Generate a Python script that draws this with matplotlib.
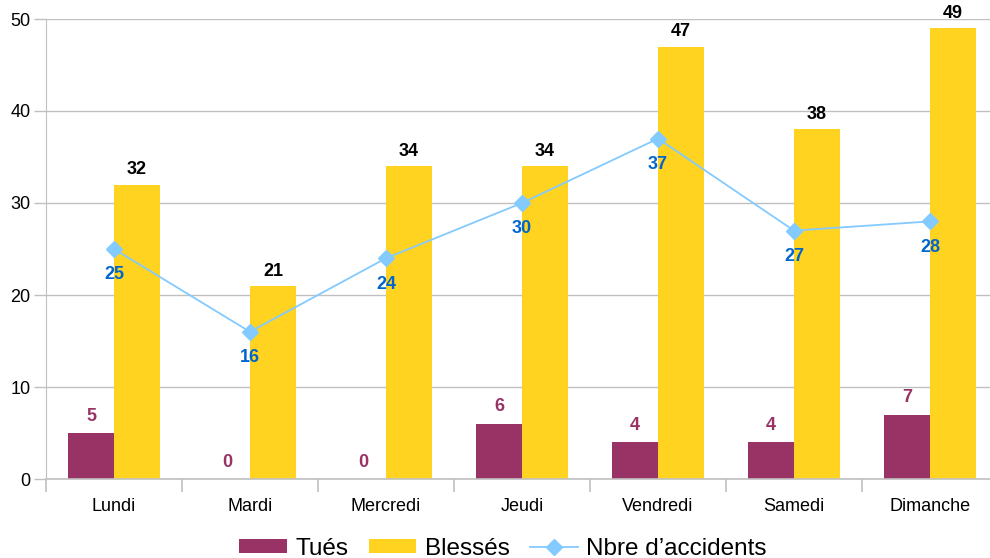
import matplotlib
matplotlib.use("Agg")
import matplotlib.pyplot as plt
from matplotlib.ticker import FixedLocator
import numpy as np

plt.rcParams['font.family'] = ['Liberation Sans', 'DejaVu Sans']

# data
jours = ["Lundi", "Mardi", "Mercredi", "Jeudi", "Vendredi", "Samedi", "Dimanche"]
tues = [5, 0, 0, 6, 4, 4, 7]
blesses = [32, 21, 34, 34, 47, 38, 49]
accidents = [25, 16, 24, 30, 37, 27, 28]

C_TUES = "#993366"
C_BLESSES = "#ffd320"
C_LINE = "#83caff"
C_LINE_LBL = "#0066cc"
GRID = "#c0c0c0"

fig = plt.figure(figsize=(9.9, 5.58), dpi=100)
ax = fig.add_axes([46 / 990, 79 / 558, 952 / 990, 460 / 558])

x = np.arange(len(jours))
w = 0.338

b1 = ax.bar(x - w / 2, tues, w, color=C_TUES, label="Tués", zorder=2)
b2 = ax.bar(x + w / 2, blesses, w, color=C_BLESSES, label="Blessés", zorder=2)
ln, = ax.plot(x, accidents, color=C_LINE, lw=1.3, marker="D", markersize=8,
              label="Nbre d\u2019accidents", zorder=3)

# data labels
for xi, v in zip(x, tues):
    ax.annotate(str(v), (xi - w / 2, v), xytext=(0, 6), textcoords="offset points",
                ha="center", va="bottom", color=C_TUES, fontsize=13, fontweight="bold")
for xi, v in zip(x, blesses):
    ax.annotate(str(v), (xi + w / 2, v), xytext=(0, 4.5), textcoords="offset points",
                ha="center", va="bottom", color="black", fontsize=13, fontweight="bold")
for xi, v in zip(x, accidents):
    ax.annotate(str(v), (xi, v), xytext=(0, -12.5), textcoords="offset points",
                ha="center", va="top", color=C_LINE_LBL, fontsize=13, fontweight="bold")

ax.set_xlim(-0.5, len(jours) - 0.5)
ax.set_ylim(0, 50)
ax.set_yticks(range(0, 51, 10))
ax.yaxis.grid(True, color=GRID, lw=1)
ax.set_axisbelow(True)

ax.set_xticks(x)
ax.set_xticklabels(jours, fontsize=13)
ax.tick_params(axis="x", length=0, pad=14)
ax.xaxis.set_minor_locator(FixedLocator(np.arange(-0.5, len(jours), 1)))
ax.tick_params(axis="x", which="minor", length=9, color=GRID, width=1.2)
ax.tick_params(axis="y", length=9, color=GRID, width=1, labelsize=13, pad=2)

for s in ["top", "right"]:
    ax.spines[s].set_visible(False)
ax.spines["left"].set_color(GRID)
ax.spines["bottom"].set_color(GRID)
ax.spines["bottom"].set_linewidth(1.2)

fig.legend(handles=[b1, b2, ln], loc="lower center", bbox_to_anchor=(0.508, -0.042),
           ncol=3, frameon=False, fontsize=17.5, handlelength=1.95, handleheight=0.55,
           handletextpad=0.35, columnspacing=0.85)

fig.savefig("out.png", dpi=100)
